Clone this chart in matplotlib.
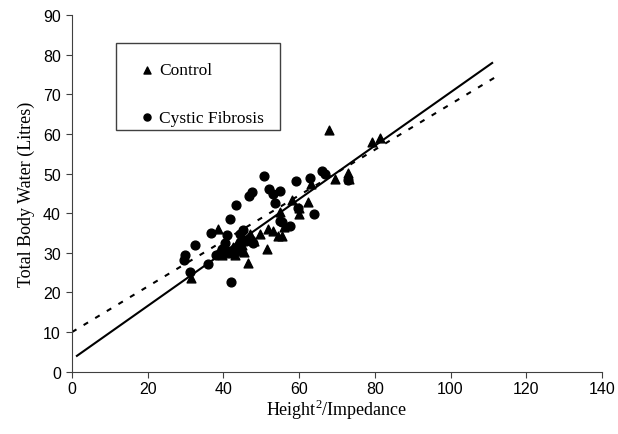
import matplotlib.pyplot as plt
from matplotlib.patches import Rectangle
import numpy as np

# Cystic Fibrosis (circles)
cf_x = [29.6, 29.9, 31.2, 32.5, 36.0, 36.6, 38.0, 39.5, 40.5, 41.0, 41.7, 42.0, 42.5,
        43.4, 44.4, 45.3, 46.8, 47.5, 47.9, 50.6, 52.0, 53.0, 53.6, 55.0, 55.4, 57.6,
        59.1, 59.8, 62.9, 63.9, 66.0, 66.8, 73.0, 44.0, 41.0, 39.0, 55.0, 46.0]
cf_y = [28.3, 29.5, 25.1, 32.0, 27.2, 35.0, 29.5, 31.0, 32.5, 34.5, 38.6, 22.6, 30.0,
        42.0, 34.7, 35.8, 44.4, 45.3, 32.4, 49.4, 46.2, 44.8, 42.5, 45.5, 37.8, 36.8,
        48.2, 41.3, 49.0, 39.7, 50.6, 49.9, 48.4, 31.5, 30.5, 30.0, 38.0, 33.0]

# Control (triangles)
ctrl_x = [31.4, 38.7, 39.5, 40.5, 41.5, 42.5, 43.0, 44.0, 44.4, 45.4, 46.6, 47.0, 48.0,
          49.7, 51.4, 51.9, 54.5, 55.4, 55.0, 58.0, 60.0, 60.1, 62.3, 63.2, 67.9, 69.5,
          73.0, 73.2, 79.3, 81.4, 45.0, 43.5, 56.0, 53.0]
ctrl_y = [23.7, 36.0, 29.5, 31.0, 30.0, 31.5, 29.5, 30.5, 33.5, 30.3, 27.4, 34.7, 33.0,
          34.7, 31.0, 36.0, 34.3, 34.2, 40.2, 43.4, 39.8, 41.3, 42.7, 47.3, 61.0, 48.6,
          50.1, 48.6, 57.9, 58.9, 32.0, 32.5, 36.5, 35.5]

# regression lines (ends)
solid_x = [1.3, 111.0]
solid_y = [4.0, 77.9]
dash_x = [0.0, 112.0]
dash_y = [10.0, 74.4]

plt.rcParams['font.family'] = 'Liberation Sans'
plt.rcParams['mathtext.fontset'] = 'custom'
plt.rcParams['mathtext.rm'] = 'Liberation Serif'

fig = plt.figure(figsize=(6.18, 4.35), dpi=100)
ax = fig.add_axes([0.1165, 0.1432, 0.8575, 0.82])

ax.plot(solid_x, solid_y, color='black', lw=1.5, zorder=2)
ax.plot(dash_x, dash_y, color='black', lw=1.5, ls=(0, (2.5, 4)), zorder=2)
ax.scatter(ctrl_x, ctrl_y, marker='^', s=40, color='black', label='Control', zorder=3)
ax.scatter(cf_x, cf_y, marker='o', s=40, color='black', label='Cystic Fibrosis', zorder=3)

ax.set_xlim(0, 140)
ax.set_ylim(0, 90)
ax.set_xticks(np.arange(0, 141, 20))
ax.set_yticks(np.arange(0, 91, 10))
ax.tick_params(labelsize=11.5, direction='out', length=4, color='#404040', pad=4)
ax.tick_params(axis='x', pad=3)
for side in ['top', 'right']:
    ax.spines[side].set_visible(False)
for side in ['left', 'bottom']:
    ax.spines[side].set_color('#404040')

ax.set_xlabel(r'Height$^\mathrm{2}$/Impedance', family='Liberation Serif', fontsize=13, labelpad=0)
ax.set_ylabel('Total Body Water (Litres)', family='Liberation Serif', fontsize=13, labelpad=6)

# legend box drawn separately
ax.add_patch(Rectangle((0.083, 0.6776), 0.3095, 0.2439, transform=ax.transAxes,
                       facecolor='white', edgecolor='#404040', lw=1.0, zorder=4))
leg = ax.legend(loc='center left', bbox_to_anchor=(0.125, 0.7785), prop={'family': 'Liberation Serif', 'size': 12.5},
                frameon=False, labelspacing=1.8, borderpad=0, handlelength=1.0,
                handletextpad=0.2, markerscale=0.8, borderaxespad=0)
leg.set_zorder(5)

fig.savefig('out.png', dpi=100)
